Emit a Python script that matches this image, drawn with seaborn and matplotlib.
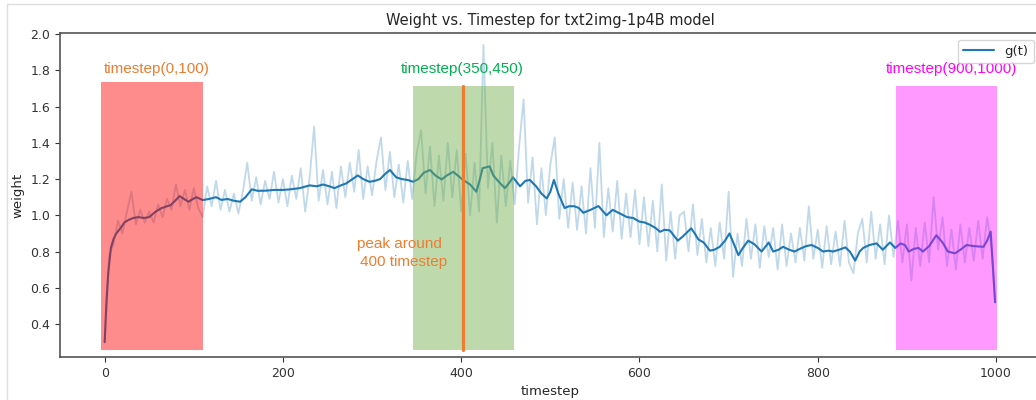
import numpy as np
import pandas as pd
import matplotlib
matplotlib.use("Agg")
import matplotlib.pyplot as plt
from matplotlib.patches import Rectangle
from matplotlib.lines import Line2D
import seaborn as sns

# raw weight, read every 5 timesteps (last point at 999)
raw_t = list(range(0, 1000, 5)) + [999]
raw_w = [
    0.30, 0.78, 0.84, 0.97, 0.90, 1.02, 1.13, 0.95, 1.03, 0.96,
    1.02, 0.96, 1.06, 0.99, 1.09, 1.03, 1.17, 1.05, 1.14, 1.03,
    1.15, 1.04, 0.99, 1.16, 1.05, 1.19, 1.03, 1.14, 1.02, 1.12,
    1.01, 1.13, 1.29, 1.08, 1.21, 1.06, 1.19, 1.09, 1.24, 1.07,
    1.20, 1.05, 1.22, 1.09, 1.26, 1.02, 1.21, 1.49, 1.08, 1.25,
    1.06, 1.24, 1.04, 1.27, 1.10, 1.29, 1.13, 1.36, 1.09, 1.27,
    1.11, 1.30, 1.43, 1.14, 1.35, 1.10, 1.28, 1.07, 1.30, 1.09,
    1.34, 1.47, 1.12, 1.38, 1.05, 1.33, 1.08, 1.40, 1.10, 1.36,
    1.02, 1.34, 1.00, 1.29, 1.02, 1.94, 1.15, 1.40, 0.96, 1.33,
    1.05, 1.30, 1.06, 1.38, 1.64, 1.07, 1.32, 0.95, 1.26, 1.00,
    1.28, 1.43, 0.98, 1.20, 0.93, 1.18, 0.92, 1.16, 0.90, 1.26,
    0.93, 1.40, 0.88, 1.15, 0.91, 1.19, 0.87, 1.12, 0.88, 1.14,
    0.84, 1.10, 0.83, 1.08, 0.80, 1.17, 0.75, 1.02, 0.76, 1.00,
    1.02, 0.80, 1.06, 0.78, 0.98, 0.74, 0.93, 0.72, 0.96, 0.76,
    1.13, 0.66, 0.90, 0.72, 0.98, 0.76, 0.95, 0.71, 0.94, 0.77,
    0.93, 0.70, 0.95, 0.72, 0.90, 0.74, 0.93, 0.75, 1.05, 0.76,
    0.92, 0.71, 0.94, 0.73, 0.91, 0.72, 0.97, 0.74, 0.68, 0.90,
    0.98, 0.74, 1.02, 0.76, 0.95, 0.73, 1.00, 0.77, 0.97, 0.74,
    0.95, 0.64, 0.93, 0.72, 0.96, 0.74, 1.10, 0.81, 0.99, 0.72,
    0.92, 0.70, 0.95, 0.74, 0.93, 0.75, 0.97, 0.76, 0.99, 0.82,
    0.52,
]

# smoothed g(t)
smooth_t = [0, 2, 4, 7, 10, 13, 18, 22, 27, 32, 38, 44, 50, 57, 64, 70, 74, 79, 84, 89,
            94, 99, 103, 110, 117, 125, 131, 138, 145, 152, 158, 165, 172, 181, 190, 200,
            208, 219, 230, 238, 245, 252, 258, 265, 271, 278, 284, 290, 297, 303, 309,
            314, 320, 327, 333, 340, 346, 352, 358, 365, 371, 378, 384, 391, 396, 402,
            410, 417, 421, 424, 432, 436, 443, 449, 454, 458, 466, 472, 477, 484, 490,
            496, 500, 504, 509, 516, 521, 527, 532, 537, 545, 554, 563, 570, 578, 586,
            593, 600, 606, 612, 618, 623, 628, 634, 643, 649, 658, 662, 666, 672, 679,
            684, 690, 696, 701, 706, 711, 716, 722, 729, 737, 745, 750, 756, 761, 768,
            774, 780, 787, 793, 800, 806, 812, 817, 824, 831, 836, 842, 847, 851, 858,
            866, 873, 881, 887, 893, 898, 902, 908, 913, 918, 925, 933, 940, 946, 954,
            960, 967, 975, 986, 990, 994, 999]
smooth_w = [0.30, 0.52, 0.68, 0.82, 0.87, 0.90, 0.93, 0.96, 0.975, 0.985, 0.99, 0.985,
            0.99, 1.02, 1.04, 1.05, 1.056, 1.08, 1.106, 1.09, 1.075, 1.09, 1.10, 1.084,
            1.09, 1.10, 1.085, 1.09, 1.08, 1.075, 1.10, 1.143, 1.135, 1.136, 1.14, 1.14,
            1.143, 1.15, 1.165, 1.16, 1.17, 1.16, 1.15, 1.165, 1.176, 1.20, 1.22, 1.20,
            1.185, 1.19, 1.20, 1.225, 1.25, 1.21, 1.20, 1.195, 1.185, 1.20, 1.235, 1.25,
            1.22, 1.198, 1.22, 1.24, 1.22, 1.195, 1.17, 1.13, 1.20, 1.26, 1.27, 1.22,
            1.18, 1.15, 1.18, 1.21, 1.16, 1.19, 1.195, 1.16, 1.12, 1.093, 1.13, 1.195,
            1.12, 1.04, 1.05, 1.05, 1.04, 1.014, 1.03, 1.051, 1.00, 1.03, 1.01, 0.99,
            0.985, 0.965, 0.96, 0.947, 0.93, 0.909, 0.92, 0.917, 0.86, 0.885, 0.928,
            0.90, 0.867, 0.85, 0.805, 0.81, 0.826, 0.86, 0.90, 0.84, 0.78, 0.82, 0.86,
            0.84, 0.80, 0.85, 0.80, 0.81, 0.826, 0.81, 0.80, 0.815, 0.83, 0.836, 0.82,
            0.80, 0.805, 0.80, 0.81, 0.823, 0.80, 0.75, 0.80, 0.82, 0.836, 0.845, 0.81,
            0.85, 0.82, 0.845, 0.835, 0.80, 0.815, 0.82, 0.80, 0.83, 0.89, 0.85, 0.80,
            0.79, 0.81, 0.836, 0.83, 0.826, 0.86, 0.91, 0.52]

raw_df = pd.DataFrame({"timestep": raw_t, "weight": raw_w})
smooth_df = pd.DataFrame({"timestep": smooth_t, "weight": smooth_w})

sns.set_style("ticks")
plt.rcParams["font.family"] = ["DejaVu Sans"]

fig = plt.figure(figsize=(10.36, 4.0), dpi=100)
ax = fig.add_axes([0.058, 0.1075, 0.946, 0.81])

blue = "#1f77b4"
sns.lineplot(data=raw_df, x="timestep", y="weight", ax=ax, color=blue, alpha=0.28, lw=1.3)
sns.lineplot(data=smooth_df, x="timestep", y="weight", ax=ax, color=blue, lw=1.5, label="g(t)")

# highlighted timestep windows, drawn over the lines
ax.add_patch(Rectangle((-4, 0.255), 114, 1.48, color="red", alpha=0.45, lw=0, zorder=3))
ax.add_patch(Rectangle((346, 0.255), 113, 1.46, color="#70AD47", alpha=0.45, lw=0, zorder=3))
ax.add_patch(Rectangle((888, 0.255), 113, 1.46, color="#FF00FF", alpha=0.4, lw=0, zorder=3))
ax.plot([402, 402], [0.255, 1.715], color="#ED7D31", lw=2.3, zorder=4)

tf = dict(family="Liberation Sans", fontsize=11, va="center", ha="left")
ax.text(-1, 1.81, "timestep(0,100)", color="#ED7D31", **tf)
ax.text(332, 1.81, "timestep(350,450)", color="#00B050", **tf)
ax.text(876, 1.81, "timestep(900,1000)", color="#FF00FF", **tf)
ax.text(283, 0.84, "peak around", color="#ED7D31", **tf)
ax.text(287, 0.74, "400 timestep", color="#ED7D31", **tf)

ax.set_xlim(-50, 1049.5)
ax.set_ylim(0.218, 2.006)
ax.set_xticks([0, 200, 400, 600, 800, 1000])
ax.set_yticks([0.4, 0.6, 0.8, 1.0, 1.2, 1.4, 1.6, 1.8, 2.0])
ax.tick_params(labelsize=9, colors="#333333")
ax.set_xlabel("timestep", fontsize=9.5)
ax.set_ylabel("weight", fontsize=9.5)
ax.set_title("Weight vs. Timestep for txt2img-1p4B model", fontsize=10.5)
for s in ax.spines.values():
    s.set_color("#555555")
    s.set_linewidth(1.2)
ax.legend(loc="upper right", fontsize=9.5, handlelength=2.3)

# notebook cell border
fig.add_artist(Line2D([7 / 1036, 1], [1 - 4 / 400, 1 - 4 / 400], color="#dddddd", lw=1))
fig.add_artist(Line2D([7 / 1036, 7 / 1036], [0, 1 - 4 / 400], color="#dddddd", lw=1))

fig.savefig("out.png", dpi=100)
